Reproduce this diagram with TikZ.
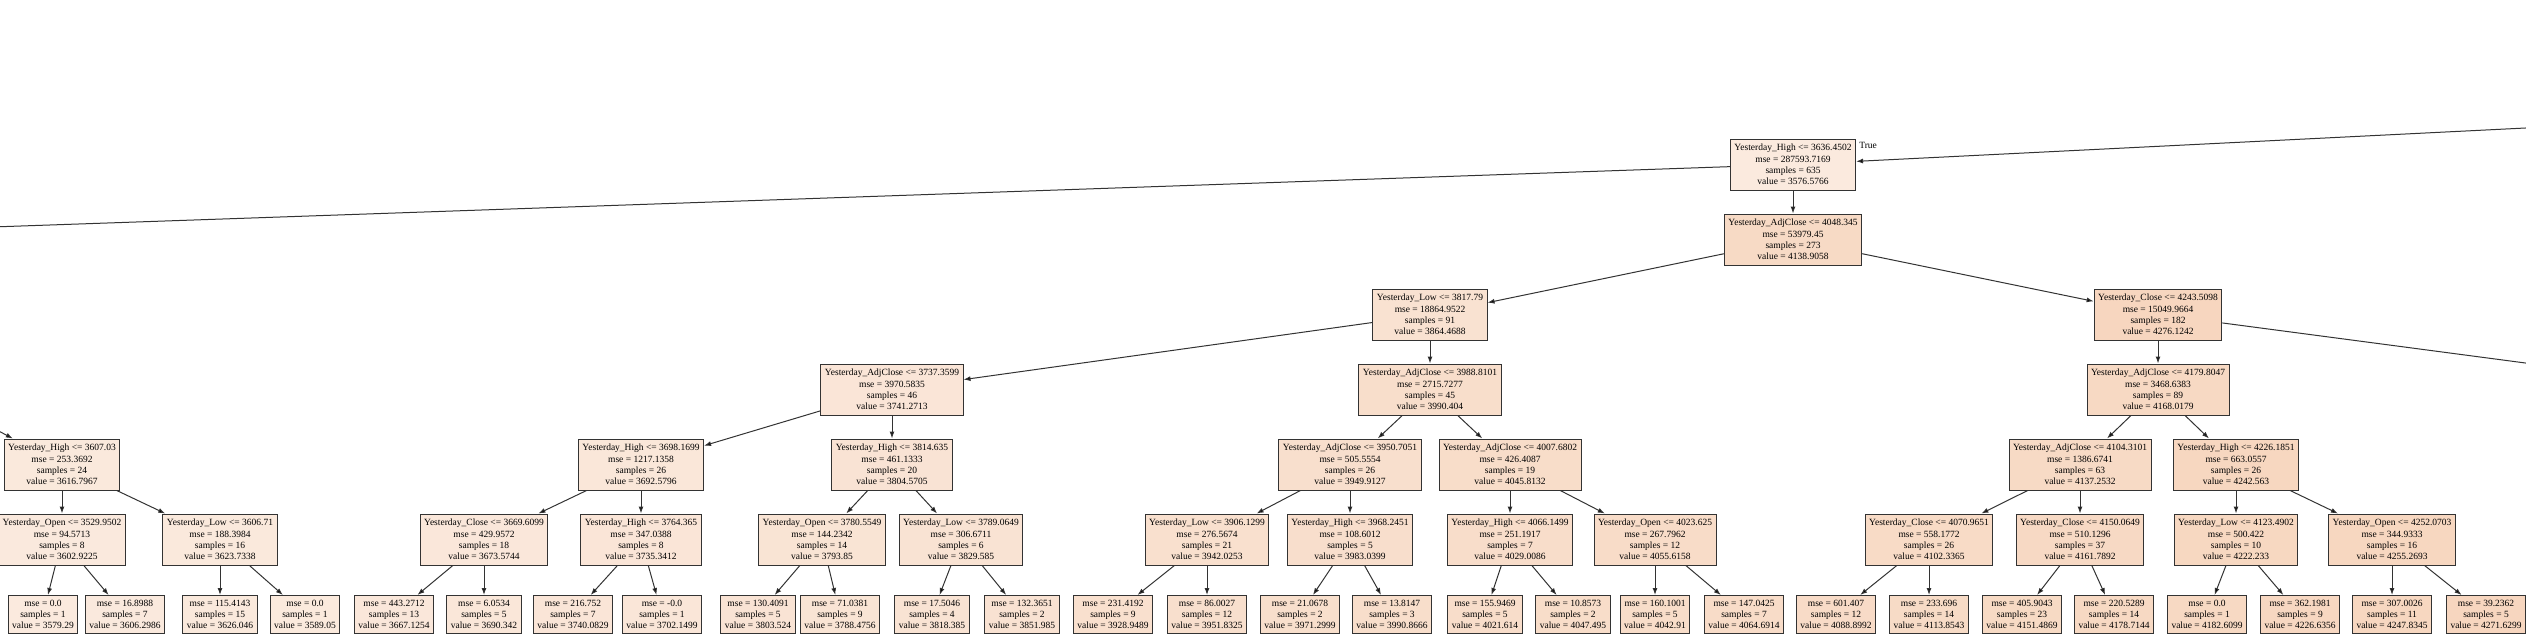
\documentclass[tikz,border=0pt]{standalone}
\usepackage{fontspec}
\setmainfont{Liberation Serif}
\usetikzlibrary{positioning,arrows.meta}

\definecolor{treeorange}{RGB}{229,129,57}
\tikzset{
  splitbox/.style={rectangle,draw=black!80,line width=1pt,align=center,
    inner xsep=4pt,inner ysep=0pt,minimum height=51pt},
  leafbox/.style={splitbox,minimum height=38pt},
  valfill/.code={\pgfmathsetmacro\nodetint{16.7+(#1-3576)*0.0226}%
    \pgfkeysalso{fill=treeorange!\nodetint!white}}
}

\begin{document}
\begin{tikzpicture}[x=1pt,y=-1pt,on grid,node distance=75pt,
    font=\fontsize{9.5}{11.2}\selectfont,>={Latex[length=7pt,width=5pt]}]
    \useasboundingbox (0,0) rectangle (2526,642);
    \clip (0,0) rectangle (2526,642);

    % upper levels
    \node[splitbox,valfill=3576.5766] (R) at (1793,164.5) {Yesterday\_High <= 3636.4502\\mse = 287593.7169\\samples = 635\\value = 3576.5766};
    \node[anchor=north west,inner sep=0pt] (truelbl) at ([shift={(3,4)}]R.north east) {True};
    \node[splitbox,valfill=4138.9058] (a1) [below=of R] {Yesterday\_AdjClose <= 4048.345\\mse = 53979.45\\samples = 273\\value = 4138.9058};
    \node[splitbox,valfill=3864.4688] (b1) [below left=75pt and 363pt of a1] {Yesterday\_Low <= 3817.79\\mse = 18864.9522\\samples = 91\\value = 3864.4688};
    \node[splitbox,valfill=4276.1242] (b2) [below right=75pt and 365pt of a1] {Yesterday\_Close <= 4243.5098\\mse = 15049.9664\\samples = 182\\value = 4276.1242};
    \node[splitbox,valfill=3741.2713] (c1) [below left=75pt and 538pt of b1] {Yesterday\_AdjClose <= 3737.3599\\mse = 3970.5835\\samples = 46\\value = 3741.2713};
    \node[splitbox,valfill=3990.404] (c2) [below=of b1] {Yesterday\_AdjClose <= 3988.8101\\mse = 2715.7277\\samples = 45\\value = 3990.404};
    \node[splitbox,valfill=4168.0179] (c3) [below=of b2] {Yesterday\_AdjClose <= 4179.8047\\mse = 3468.6383\\samples = 89\\value = 4168.0179};

    \node[splitbox,valfill=3616.7967] (d0) at (62,464.5) {Yesterday\_High <= 3607.03\\mse = 253.3692\\samples = 24\\value = 3616.7967};
    \node[splitbox,valfill=3692.5796] (d1) [below left=75pt and 251pt of c1] {Yesterday\_High <= 3698.1699\\mse = 1217.1358\\samples = 26\\value = 3692.5796};
    \node[splitbox,valfill=3804.5705] (d2) [below=of c1] {Yesterday\_High <= 3814.635\\mse = 461.1333\\samples = 20\\value = 3804.5705};
    \node[splitbox,valfill=3949.9127] (d3) [below left=75pt and 80pt of c2] {Yesterday\_AdjClose <= 3950.7051\\mse = 505.5554\\samples = 26\\value = 3949.9127};
    \node[splitbox,valfill=4045.8132] (d4) [below right=75pt and 80pt of c2] {Yesterday\_AdjClose <= 4007.6802\\mse = 426.4087\\samples = 19\\value = 4045.8132};
    \node[splitbox,valfill=4137.2532] (d5) [below left=75pt and 78pt of c3] {Yesterday\_AdjClose <= 4104.3101\\mse = 1386.6741\\samples = 63\\value = 4137.2532};
    \node[splitbox,valfill=4242.563] (d6) [below right=75pt and 78pt of c3] {Yesterday\_High <= 4226.1851\\mse = 663.0557\\samples = 26\\value = 4242.563};

    \node[splitbox,valfill=3602.9225] (e1) [below=of d0] {Yesterday\_Open <= 3529.9502\\mse = 94.5713\\samples = 8\\value = 3602.9225};
    \node[splitbox,valfill=3623.7338] (e2) [below right=75pt and 158pt of d0] {Yesterday\_Low <= 3606.71\\mse = 188.3984\\samples = 16\\value = 3623.7338};
    \node[splitbox,valfill=3673.5744] (e3) [below left=75pt and 157pt of d1] {Yesterday\_Close <= 3669.6099\\mse = 429.9572\\samples = 18\\value = 3673.5744};
    \node[splitbox,valfill=3735.3412] (e4) [below=of d1] {Yesterday\_High <= 3764.365\\mse = 347.0388\\samples = 8\\value = 3735.3412};
    \node[splitbox,valfill=3793.85] (e5) [below left=75pt and 70pt of d2] {Yesterday\_Open <= 3780.5549\\mse = 144.2342\\samples = 14\\value = 3793.85};
    \node[splitbox,valfill=3829.585] (e6) [below right=75pt and 69pt of d2] {Yesterday\_Low <= 3789.0649\\mse = 306.6711\\samples = 6\\value = 3829.585};
    \node[splitbox,valfill=3942.0253] (e7) [below left=75pt and 143pt of d3] {Yesterday\_Low <= 3906.1299\\mse = 276.5674\\samples = 21\\value = 3942.0253};
    \node[splitbox,valfill=3983.0399] (e8) [below=of d3] {Yesterday\_High <= 3968.2451\\mse = 108.6012\\samples = 5\\value = 3983.0399};
    \node[splitbox,valfill=4029.0086] (e9) [below=of d4] {Yesterday\_High <= 4066.1499\\mse = 251.1917\\samples = 7\\value = 4029.0086};
    \node[splitbox,valfill=4055.6158] (e10) [below right=75pt and 145pt of d4] {Yesterday\_Open <= 4023.625\\mse = 267.7962\\samples = 12\\value = 4055.6158};
    \node[splitbox,valfill=4102.3365] (e11) [below left=75pt and 151pt of d5] {Yesterday\_Close <= 4070.9651\\mse = 558.1772\\samples = 26\\value = 4102.3365};
    \node[splitbox,valfill=4161.7892] (e12) [below=of d5] {Yesterday\_Close <= 4150.0649\\mse = 510.1296\\samples = 37\\value = 4161.7892};
    \node[splitbox,valfill=4222.233] (e13) [below=of d6] {Yesterday\_Low <= 4123.4902\\mse = 500.422\\samples = 10\\value = 4222.233};
    \node[splitbox,valfill=4255.2693] (e14) [below right=75pt and 156pt of d6] {Yesterday\_Open <= 4252.0703\\mse = 344.9333\\samples = 16\\value = 4255.2693};

    % leaves
    \node[leafbox,valfill=3579.29] (f1) [below left=75pt and 19pt of e1] {mse = 0.0\\samples = 1\\value = 3579.29};
    \node[leafbox,valfill=3606.2986] (f2) [below right=75pt and 63pt of e1] {mse = 16.8988\\samples = 7\\value = 3606.2986};
    \node[leafbox,valfill=3626.046] (f3) [below=of e2] {mse = 115.4143\\samples = 15\\value = 3626.046};
    \node[leafbox,valfill=3589.05] (f4) [below right=75pt and 85pt of e2] {mse = 0.0\\samples = 1\\value = 3589.05};
    \node[leafbox,valfill=3667.1254] (f5) [below left=75pt and 90pt of e3] {mse = 443.2712\\samples = 13\\value = 3667.1254};
    \node[leafbox,valfill=3690.342] (f6) [below=of e3] {mse = 6.0534\\samples = 5\\value = 3690.342};
    \node[leafbox,valfill=3740.0829] (f7) [below left=75pt and 68pt of e4] {mse = 216.752\\samples = 7\\value = 3740.0829};
    \node[leafbox,valfill=3702.1499] (f8) [below right=75pt and 21pt of e4] {mse = -0.0\\samples = 1\\value = 3702.1499};
    \node[leafbox,valfill=3803.524] (f9) [below left=75pt and 64pt of e5] {mse = 130.4091\\samples = 5\\value = 3803.524};
    \node[leafbox,valfill=3788.4756] (f10) [below right=75pt and 18pt of e5] {mse = 71.0381\\samples = 9\\value = 3788.4756};
    \node[leafbox,valfill=3818.385] (f11) [below left=75pt and 29pt of e6] {mse = 17.5046\\samples = 4\\value = 3818.385};
    \node[leafbox,valfill=3851.985] (f12) [below right=75pt and 61pt of e6] {mse = 132.3651\\samples = 2\\value = 3851.985};
    \node[leafbox,valfill=3928.9489] (f13) [below left=75pt and 94pt of e7] {mse = 231.4192\\samples = 9\\value = 3928.9489};
    \node[leafbox,valfill=3951.8325] (f14) [below=of e7] {mse = 86.0027\\samples = 12\\value = 3951.8325};
    \node[leafbox,valfill=3971.2999] (f15) [below left=75pt and 50pt of e8] {mse = 21.0678\\samples = 2\\value = 3971.2999};
    \node[leafbox,valfill=3990.8666] (f16) [below right=75pt and 42pt of e8] {mse = 13.8147\\samples = 3\\value = 3990.8666};
    \node[leafbox,valfill=4021.614] (f17) [below left=75pt and 25pt of e9] {mse = 155.9469\\samples = 5\\value = 4021.614};
    \node[leafbox,valfill=4047.495] (f18) [below right=75pt and 63pt of e9] {mse = 10.8573\\samples = 2\\value = 4047.495};
    \node[leafbox,valfill=4042.91] (f19) [below=of e10] {mse = 160.1001\\samples = 5\\value = 4042.91};
    \node[leafbox,valfill=4064.6914] (f20) [below right=75pt and 89pt of e10] {mse = 147.0425\\samples = 7\\value = 4064.6914};
    \node[leafbox,valfill=4088.8992] (f21) [below left=75pt and 93pt of e11] {mse = 601.407\\samples = 12\\value = 4088.8992};
    \node[leafbox,valfill=4113.8543] (f22) [below=of e11] {mse = 233.696\\samples = 14\\value = 4113.8543};
    \node[leafbox,valfill=4151.4869] (f23) [below left=75pt and 58pt of e12] {mse = 405.9043\\samples = 23\\value = 4151.4869};
    \node[leafbox,valfill=4178.7144] (f24) [below right=75pt and 34pt of e12] {mse = 220.5289\\samples = 14\\value = 4178.7144};
    \node[leafbox,valfill=4182.6099] (f25) [below left=75pt and 29pt of e13] {mse = 0.0\\samples = 1\\value = 4182.6099};
    \node[leafbox,valfill=4226.6356] (f26) [below right=75pt and 64pt of e13] {mse = 362.1981\\samples = 9\\value = 4226.6356};
    \node[leafbox,valfill=4247.8345] (f27) [below=of e14] {mse = 307.0026\\samples = 11\\value = 4247.8345};
    \node[leafbox,valfill=4271.6299] (f28) [below right=75pt and 94pt of e14] {mse = 39.2362\\samples = 5\\value = 4271.6299};

    % ends of edges that leave the picture
    \coordinate (upR) at (2620,123.3);
    \coordinate (offL) at (-100,230.2);
    \coordinate (upL) at (-60,400);
    \coordinate (offR) at (2620,375.5);

    \path[->,draw=black!80,line width=1pt]
        (upR) edge (R)  (R) edge (offL)  (upL) edge (d0)  (b2) edge (offR)
        (R) edge (a1)  (a1) edge (b1)  (a1) edge (b2)
        (b1) edge (c1)  (b1) edge (c2)  (b2) edge (c3)
        (c1) edge (d1)  (c1) edge (d2)  (c2) edge (d3)  (c2) edge (d4)
        (c3) edge (d5)  (c3) edge (d6)
        (d0) edge (e1)  (d0) edge (e2)  (d1) edge (e3)  (d1) edge (e4)
        (d2) edge (e5)  (d2) edge (e6)  (d3) edge (e7)  (d3) edge (e8)
        (d4) edge (e9)  (d4) edge (e10) (d5) edge (e11) (d5) edge (e12)
        (d6) edge (e13) (d6) edge (e14)
        (e1) edge (f1)  (e1) edge (f2)  (e2) edge (f3)  (e2) edge (f4)
        (e3) edge (f5)  (e3) edge (f6)  (e4) edge (f7)  (e4) edge (f8)
        (e5) edge (f9)  (e5) edge (f10) (e6) edge (f11) (e6) edge (f12)
        (e7) edge (f13) (e7) edge (f14) (e8) edge (f15) (e8) edge (f16)
        (e9) edge (f17) (e9) edge (f18) (e10) edge (f19) (e10) edge (f20)
        (e11) edge (f21) (e11) edge (f22) (e12) edge (f23) (e12) edge (f24)
        (e13) edge (f25) (e13) edge (f26) (e14) edge (f27) (e14) edge (f28);
\end{tikzpicture}
\end{document}
